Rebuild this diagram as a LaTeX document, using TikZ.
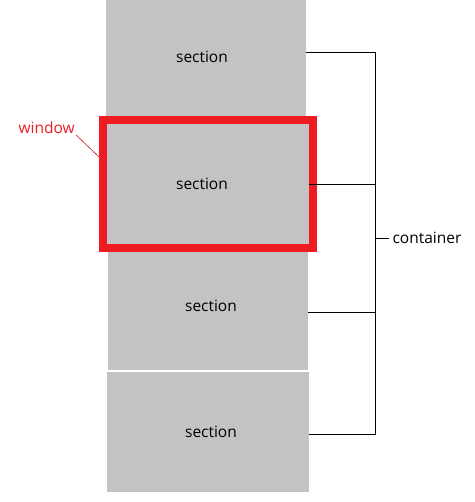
\documentclass[tikz,border=0pt]{standalone}
\usepackage{fontspec}
\setmainfont{Open Sans}
\usetikzlibrary{positioning, calc}
\definecolor{secgray}{HTML}{C3C3C3}
\definecolor{winred}{HTML}{ED1C24}

\begin{document}
\begin{tikzpicture}[
    x=1pt, y=-1pt,
    every node/.style={font=\fontsize{15.5}{18}\selectfont},
    sec/.style={fill=secgray, inner sep=0pt, minimum width=200pt},
    win/.style={draw=winred, line width=8pt, inner sep=0pt,
                minimum width=210pt, minimum height=128pt},
    link/.style={line width=0.8pt}
]
    \useasboundingbox (0,0) rectangle (474,502);

    \node[sec, minimum height=116pt] (s1) at (206, 58) {};
    \node[sec, minimum width=204pt, minimum height=128pt] (s2) at (207, 184) {};
    \node[sec, minimum height=122pt] (s3) at (208, 309) {};
    \node[sec, minimum width=202pt, minimum height=120pt] (s4) at (208, 432) {};
    \node (t1) at (202, 57)  {section};
    \node (t2) at (202, 184) {section};
    \node (t3) at (211, 306) {section};
    \node (t4) at (211, 432) {section};

    \node[win] (win) at (208, 184) {};

    \node[text=winred, anchor=west] (wlbl) at (15, 128) {window};
    \coordinate (wtip) at (99, 157);
    \draw[winred!80!black, line width=0.6pt] ($(wlbl.east)+(-2,7)$) -- (wtip);

    % container bracket
    \coordinate (bustop) at (375, 52);
    \coordinate (busbot) at (375, 434);
    \node[anchor=west] (ctr) at (389, 238) {container};

    \draw[link] ([yshift=6pt]s1.east) -- ([yshift=6pt]s1.east -| bustop)
        -- (busbot) -- (s4.east |- busbot);
    \draw[link] (s2.east) -- (s2.east -| bustop);
    \draw[link] ([yshift=-3pt]s3.east) -- ([yshift=-3pt]s3.east -| bustop);
    \draw[link] (ctr.west -| bustop) -- (ctr.west);
\end{tikzpicture}
\end{document}
